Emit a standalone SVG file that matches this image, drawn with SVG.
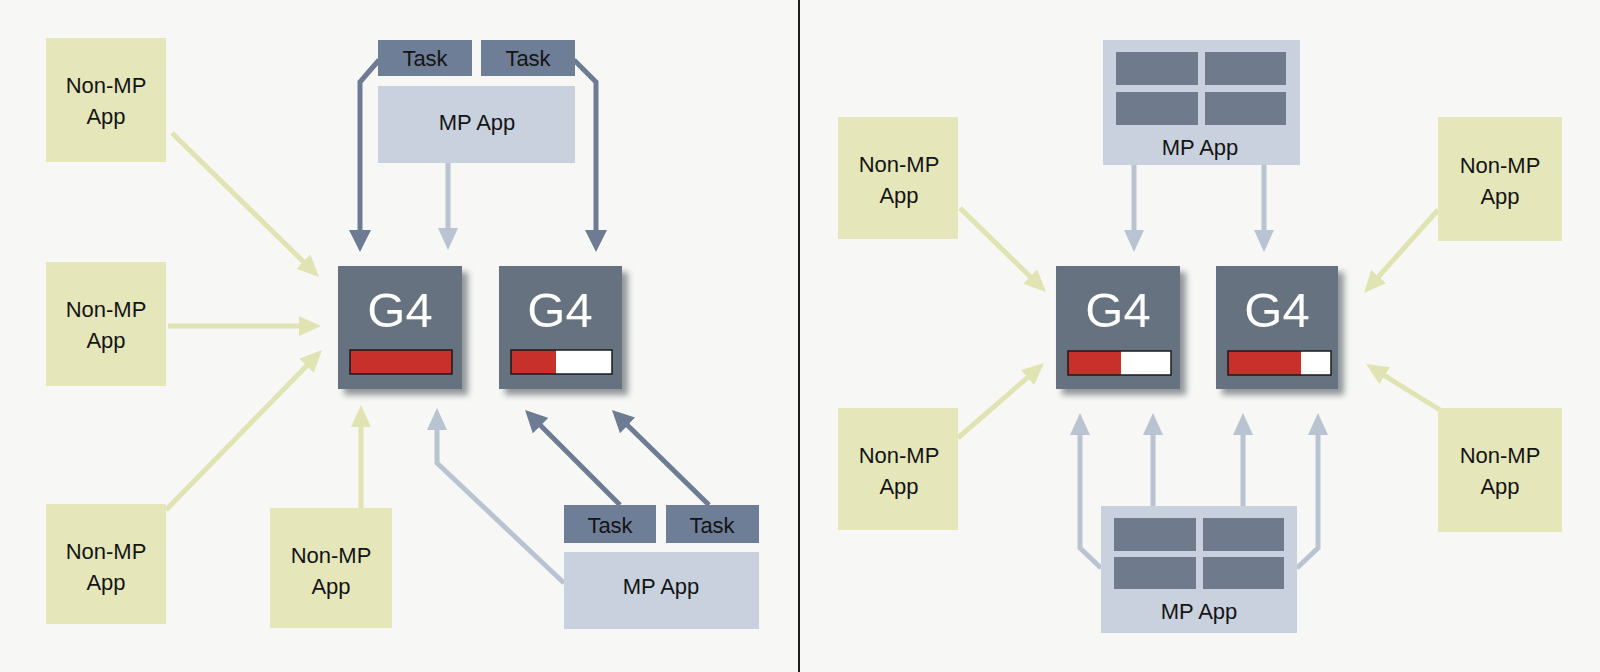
<svg xmlns="http://www.w3.org/2000/svg" width="1600" height="672" viewBox="0 0 1600 672">
<style>
  .lbl { font-family: "Liberation Sans", Arial, sans-serif; font-size: 22px; fill: #141414; text-anchor: middle; }
  .g4t { font-family: "Liberation Sans", Arial, sans-serif; font-size: 49px; fill: #ffffff; text-anchor: middle; }
  .nonmp { fill: #e5e7ba; }
  .mpapp { fill: #c8d1dd; }
  .task { fill: #6f7e97; }
  .inner { fill: #6f7b8d; }
  .g4 { fill: #667280; }
  .red { fill: #c8302c; }
  .wht { fill: #ffffff; }
  .barb { fill: none; stroke: #1a1a1a; stroke-width: 1.5; }
  .cg { fill: none; stroke: #e0e4b3; stroke-width: 5; }
  .cl { fill: none; stroke: #b9c3d1; stroke-width: 5; }
  .cd { fill: none; stroke: #6e7c93; stroke-width: 5; }
</style>
<defs>
  <marker id="ag" markerUnits="userSpaceOnUse" viewBox="0 0 22 20" refX="12" refY="10" markerWidth="22" markerHeight="20" orient="auto"><path d="M0,0 L22,10 L0,20 Z" fill="#e0e4b3"/></marker>
  <marker id="al" markerUnits="userSpaceOnUse" viewBox="0 0 22 20" refX="12" refY="10" markerWidth="22" markerHeight="20" orient="auto"><path d="M0,0 L22,10 L0,20 Z" fill="#b9c3d1"/></marker>
  <marker id="ad" markerUnits="userSpaceOnUse" viewBox="0 0 22 22" refX="12" refY="11" markerWidth="22" markerHeight="22" orient="auto"><path d="M0,0 L22,11 L0,22 Z" fill="#6e7c93"/></marker>
  <filter id="sh" x="-20%" y="-20%" width="150%" height="150%">
    <feGaussianBlur stdDeviation="3"/>
  </filter>
</defs>
<rect x="0" y="0" width="1600" height="672" fill="#f7f8f5"/>
<line x1="799" y1="0" x2="799" y2="672" stroke="#1e1e1e" stroke-width="2"/>

<g id="connectors">
  <!-- left panel -->
  <path class="cg" d="M172,133 L311.9,270" marker-end="url(#ag)"/>
  <path class="cg" d="M168,326 L311,326" marker-end="url(#ag)"/>
  <path class="cg" d="M166,510 L315,357.2" marker-end="url(#ag)"/>
  <path class="cg" d="M361,508 L361,415" marker-end="url(#ag)"/>
  <path class="cl" d="M448,163 L448,240" marker-end="url(#al)"/>
  <path class="cl" d="M564,583 L437,463 L437,418" marker-end="url(#al)"/>
  <path class="cd" d="M379,60 L360,82 L360,242" marker-end="url(#ad)"/>
  <path class="cd" d="M574,60 L596,82 L596,242" marker-end="url(#ad)"/>
  <path class="cd" d="M620,505 L532.1,417.1" marker-end="url(#ad)"/>
  <path class="cd" d="M709,505 L619.1,417" marker-end="url(#ad)"/>
  <!-- right panel -->
  <path class="cl" d="M1134,165 L1134,242" marker-end="url(#al)"/>
  <path class="cl" d="M1264,165 L1264,242" marker-end="url(#al)"/>
  <path class="cg" d="M960,208 L1038.8,285" marker-end="url(#ag)"/>
  <path class="cg" d="M1438,210 L1370.6,285.5" marker-end="url(#ag)"/>
  <path class="cg" d="M958,438 L1036.5,369.6" marker-end="url(#ag)"/>
  <path class="cg" d="M1440,410 L1374.5,369.3" marker-end="url(#ag)"/>
  <path class="cl" d="M1101,568 L1080,548 L1080,423" marker-end="url(#al)"/>
  <path class="cl" d="M1153,506 L1153,423" marker-end="url(#al)"/>
  <path class="cl" d="M1243,506 L1243,423" marker-end="url(#al)"/>
  <path class="cl" d="M1297,568 L1318,548 L1318,423" marker-end="url(#al)"/>
</g>

<!-- left panel nodes -->
<g id="nonmp-l1"><rect class="nonmp" x="46" y="38" width="120" height="124"/><text class="lbl" x="106" y="93">Non-MP</text><text class="lbl" x="106" y="124">App</text></g>
<g id="nonmp-l2"><rect class="nonmp" x="46" y="262" width="120" height="124"/><text class="lbl" x="106" y="317">Non-MP</text><text class="lbl" x="106" y="348">App</text></g>
<g id="nonmp-l3"><rect class="nonmp" x="46" y="504" width="120" height="120"/><text class="lbl" x="106" y="559">Non-MP</text><text class="lbl" x="106" y="590">App</text></g>
<g id="nonmp-l4"><rect class="nonmp" x="270" y="508" width="122" height="120"/><text class="lbl" x="331" y="563">Non-MP</text><text class="lbl" x="331" y="594">App</text></g>

<g id="task-l1"><rect class="task" x="378" y="40" width="94" height="36"/><text class="lbl" x="425" y="66">Task</text></g>
<g id="task-l2"><rect class="task" x="481" y="40" width="94" height="36"/><text class="lbl" x="528" y="66">Task</text></g>
<g id="mpapp-l1"><rect class="mpapp" x="378" y="86" width="197" height="77"/><text class="lbl" x="477" y="130">MP App</text></g>

<g id="task-l3"><rect class="task" x="564" y="505" width="92" height="38"/><text class="lbl" x="610" y="533">Task</text></g>
<g id="task-l4"><rect class="task" x="666" y="505" width="93" height="38"/><text class="lbl" x="712" y="533">Task</text></g>
<g id="mpapp-l2"><rect class="mpapp" x="564" y="552" width="195" height="77"/><text class="lbl" x="661" y="594">MP App</text></g>

<g id="g4-l1">
  <rect x="344" y="272" width="124" height="123" fill="#3d4550" opacity="0.55" filter="url(#sh)"/>
  <rect class="g4" x="338" y="266" width="124" height="123"/>
  <text class="g4t" x="400" y="327">G4</text>
  <rect class="red" x="350" y="350" width="102" height="24"/><rect class="barb" x="350" y="350" width="102" height="24"/>
</g>
<g id="g4-l2">
  <rect x="505" y="272" width="123" height="123" fill="#3d4550" opacity="0.55" filter="url(#sh)"/>
  <rect class="g4" x="499" y="266" width="123" height="123"/>
  <text class="g4t" x="560" y="327">G4</text>
  <rect class="wht" x="511" y="350" width="101" height="24"/><rect class="red" x="511" y="350" width="45" height="24"/><rect class="barb" x="511" y="350" width="101" height="24"/>
</g>

<!-- right panel nodes -->
<g id="mpapp-r1">
  <rect class="mpapp" x="1103" y="40" width="197" height="125"/>
  <rect class="inner" x="1116" y="52" width="82" height="33"/><rect class="inner" x="1205" y="52" width="81" height="33"/>
  <rect class="inner" x="1116" y="92" width="82" height="33"/><rect class="inner" x="1205" y="92" width="81" height="33"/>
  <text class="lbl" x="1200" y="155">MP App</text>
</g>
<g id="mpapp-r2">
  <rect class="mpapp" x="1101" y="506" width="196" height="127"/>
  <rect class="inner" x="1114" y="518" width="82" height="33"/><rect class="inner" x="1203" y="518" width="81" height="33"/>
  <rect class="inner" x="1114" y="557" width="82" height="32"/><rect class="inner" x="1203" y="557" width="81" height="32"/>
  <text class="lbl" x="1199" y="619">MP App</text>
</g>
<g id="nonmp-r1"><rect class="nonmp" x="838" y="117" width="120" height="122"/><text class="lbl" x="899" y="172">Non-MP</text><text class="lbl" x="899" y="203">App</text></g>
<g id="nonmp-r2"><rect class="nonmp" x="1438" y="117" width="124" height="124"/><text class="lbl" x="1500" y="173">Non-MP</text><text class="lbl" x="1500" y="204">App</text></g>
<g id="nonmp-r3"><rect class="nonmp" x="838" y="408" width="120" height="122"/><text class="lbl" x="899" y="463">Non-MP</text><text class="lbl" x="899" y="494">App</text></g>
<g id="nonmp-r4"><rect class="nonmp" x="1438" y="408" width="124" height="124"/><text class="lbl" x="1500" y="463">Non-MP</text><text class="lbl" x="1500" y="494">App</text></g>

<g id="g4-r1">
  <rect x="1062" y="272" width="124" height="123" fill="#3d4550" opacity="0.55" filter="url(#sh)"/>
  <rect class="g4" x="1056" y="266" width="124" height="123"/>
  <text class="g4t" x="1118" y="327">G4</text>
  <rect class="wht" x="1068" y="351" width="103" height="24"/><rect class="red" x="1068" y="351" width="53" height="24"/><rect class="barb" x="1068" y="351" width="103" height="24"/>
</g>
<g id="g4-r2">
  <rect x="1222" y="272" width="122" height="123" fill="#3d4550" opacity="0.55" filter="url(#sh)"/>
  <rect class="g4" x="1216" y="266" width="122" height="123"/>
  <text class="g4t" x="1277" y="327">G4</text>
  <rect class="wht" x="1228" y="351" width="103" height="24"/><rect class="red" x="1228" y="351" width="73" height="24"/><rect class="barb" x="1228" y="351" width="103" height="24"/>
</g>
</svg>
